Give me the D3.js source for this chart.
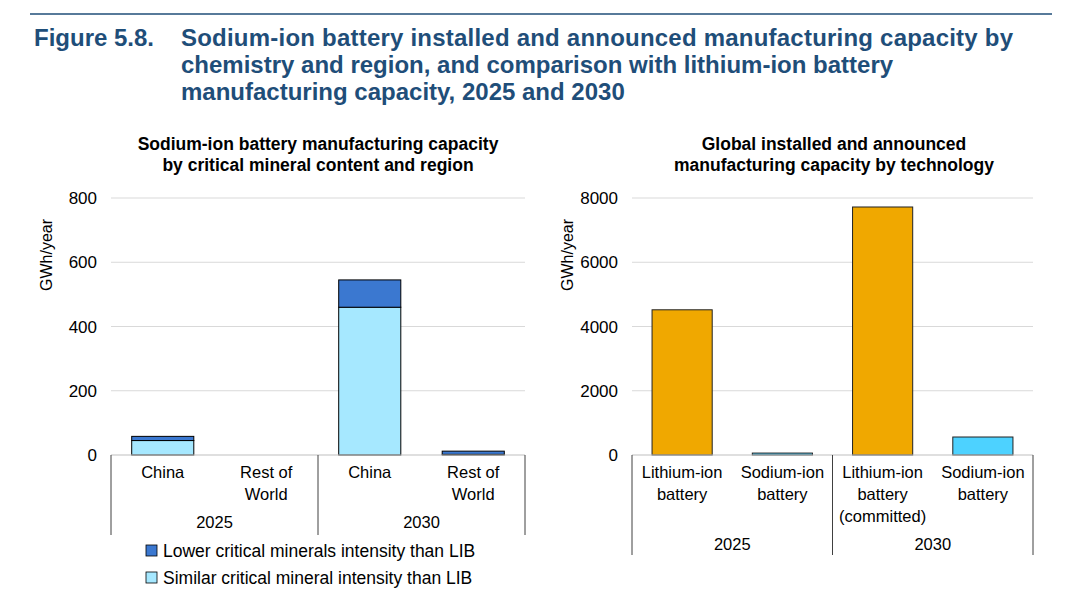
<!DOCTYPE html>
<html><head><meta charset="utf-8">
<script src="https://cdn.jsdelivr.net/npm/d3@7"></script>
<style>body{margin:0;background:#fff;font-family:Arial,"Liberation Sans",sans-serif}</style>
</head><body>
<script>
// left panel data
var regionCats = ["China|2025", "Rest of World|2025", "China|2030", "Rest of World|2030"];
var regionLabels = [["China"], ["Rest of", "World"], ["China"], ["Rest of", "World"]];
var similarVals = [45, 0, 460, 2];
var lowerVals = [13, 0, 85, 10];
var leftTicks = [0, 200, 400, 600, 800];

// right panel data
var techCats = ["Li|2025", "Na|2025", "Li|2030", "Na|2030"];
var techLabels = [["Lithium-ion", "battery"], ["Sodium-ion", "battery"], ["Lithium-ion", "battery", "(committed)"], ["Sodium-ion", "battery"]];
var techVals = [4520, 60, 7720, 560];
var techColors = ["#f0a800", "#4dd2ff", "#f0a800", "#4dd2ff"];
var rightTicks = [0, 2000, 4000, 6000, 8000];
var years = ["2025", "2030"];

var svg = d3.select("body").append("svg").attr("width", 1080).attr("height", 598);
var navy = "#1f4e79";
svg.append("line").attr("x1", 30).attr("x2", 1052).attr("y1", 14).attr("y2", 14).attr("stroke", navy).attr("stroke-width", 1.5);
var title = svg.append("g").attr("fill", navy).attr("font-weight", "bold").attr("font-size", 24);
title.append("text").attr("x", 34).attr("y", 46).text("Figure 5.8.");
["Sodium-ion battery installed and announced manufacturing capacity by",
 "chemistry and region, and comparison with lithium-ion battery",
 "manufacturing capacity, 2025 and 2030"].forEach(function(t, i) {
  title.append("text").attr("x", 181).attr("y", 46 + i * 27).attr("textLength", i === 0 ? 832 : null).text(t);
});

function panel(opt) {
  var g = svg.append("g");
  var x = d3.scaleBand().domain(opt.cats).range([opt.x0, opt.x1]).paddingInner(0.4).paddingOuter(0.2);
  var y = d3.scaleLinear().domain([0, opt.max]).range([455, 198]);
  opt.subtitle.forEach(function(t, i) {
    g.append("text").attr("x", opt.tx).attr("y", 150 + i * 21).attr("text-anchor", "middle")
      .attr("font-weight", "bold").attr("font-size", 17.5).attr("fill", "#000").text(t);
  });
  opt.ticks.forEach(function(t) {
    if (t > 0) g.append("line").attr("x1", opt.x0).attr("x2", opt.x1).attr("y1", y(t)).attr("y2", y(t)).attr("stroke", "#d9d9d9").attr("stroke-width", 1);
    g.append("text").attr("x", opt.x0 - 14).attr("y", y(t) + 6).attr("text-anchor", "end").attr("font-size", 17).text(t);
  });
  g.append("text").attr("transform", "translate(" + (opt.x0 - 59) + ",255) rotate(-90)")
    .attr("text-anchor", "middle").attr("font-size", 16).text("GWh/year");
  opt.draw(g, x, y);
  g.append("line").attr("x1", opt.x0).attr("x2", opt.x1).attr("y1", 455).attr("y2", 455).attr("stroke", "#bfbfbf");
  var xm = (opt.x0 + opt.x1) / 2;
  [opt.x0, xm, opt.x1].forEach(function(v) {
    g.append("line").attr("x1", v).attr("x2", v).attr("y1", 455).attr("y2", opt.vEnd).attr("stroke", "#404040");
  });
  opt.labels.forEach(function(lines, i) {
    lines.forEach(function(l, j) {
      g.append("text").attr("x", x(opt.cats[i]) + x.bandwidth() / 2).attr("y", 478 + j * 22)
        .attr("text-anchor", "middle").attr("font-size", 16.5).text(l);
    });
  });
  years.forEach(function(yr, i) {
    g.append("text").attr("x", opt.x0 + (xm - opt.x0) * (i + 0.5)).attr("y", opt.yearY)
      .attr("text-anchor", "middle").attr("font-size", 16.5).text(yr);
  });
}

panel({
  cats: regionCats, labels: regionLabels, x0: 111, x1: 525, max: 800, ticks: leftTicks, tx: 318,
  subtitle: ["Sodium-ion battery manufacturing capacity", "by critical mineral content and region"],
  vEnd: 535, yearY: 528,
  draw: function(g, x, y) {
    regionCats.forEach(function(c, i) {
      if (similarVals[i] + lowerVals[i] === 0) return;
      g.append("rect").attr("x", x(c)).attr("width", x.bandwidth())
        .attr("y", y(similarVals[i])).attr("height", y(0) - y(similarVals[i]))
        .attr("fill", "#a6e8ff").attr("stroke", "#000").attr("stroke-width", 1);
      g.append("rect").attr("x", x(c)).attr("width", x.bandwidth())
        .attr("y", y(similarVals[i] + lowerVals[i])).attr("height", y(0) - y(lowerVals[i]))
        .attr("fill", "#3b78d0").attr("stroke", "#000").attr("stroke-width", 1);
    });
  }
});

panel({
  cats: techCats, labels: techLabels, x0: 632, x1: 1033, max: 8000, ticks: rightTicks, tx: 834,
  subtitle: ["Global installed and announced", "manufacturing capacity by technology"],
  vEnd: 555, yearY: 550,
  draw: function(g, x, y) {
    g.selectAll(".tb").data(techVals).enter().append("rect")
      .attr("x", function(d, i) { return x(techCats[i]); }).attr("width", x.bandwidth())
      .attr("y", function(d) { return y(d); }).attr("height", function(d) { return y(0) - y(d); })
      .attr("fill", function(d, i) { return techColors[i]; }).attr("stroke", "#222").attr("stroke-width", 1);
  }
});

// legend
var leg = [["#3b78d0", "Lower critical minerals intensity than LIB"], ["#a6e8ff", "Similar critical mineral intensity than LIB"]];
leg.forEach(function(l, i) {
  svg.append("rect").attr("x", 146).attr("y", 545 + i * 27).attr("width", 11).attr("height", 11)
    .attr("fill", l[0]).attr("stroke", "#000").attr("stroke-width", 0.8);
  svg.append("text").attr("x", 163).attr("y", 557 + i * 27).attr("font-size", 17.5).text(l[1]);
});
</script>
</body></html>
